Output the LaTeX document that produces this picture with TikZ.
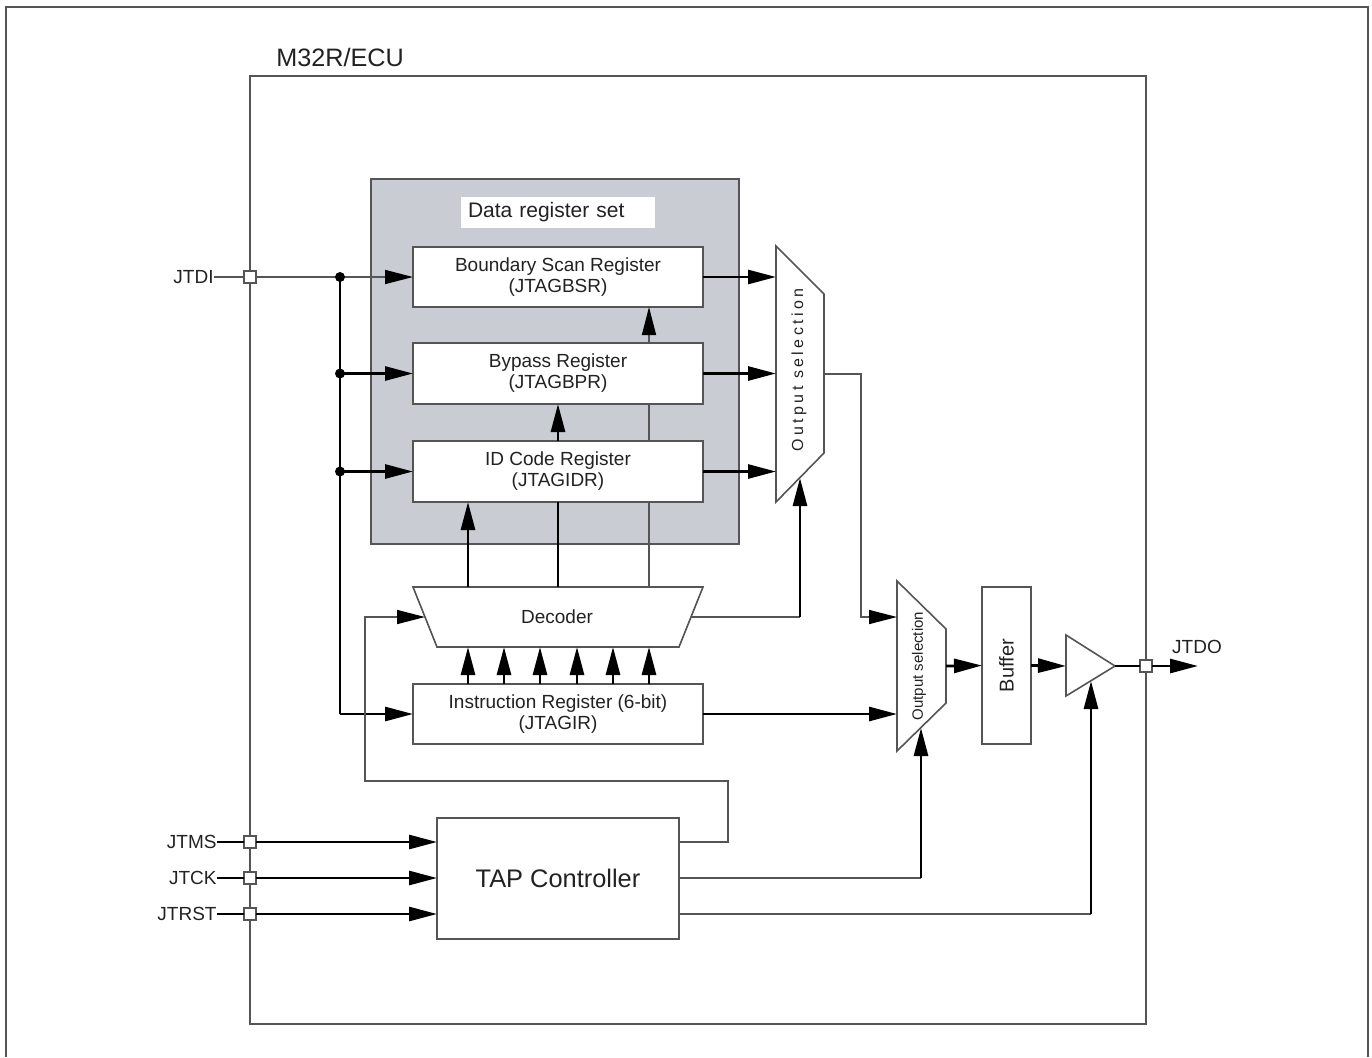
\documentclass[tikz,border=0pt]{standalone}
\usepackage{fontspec}
\setmainfont{Liberation Sans}
\usetikzlibrary{arrows.meta,calc}
\definecolor{linegray}{HTML}{555555}
\definecolor{boxgray}{HTML}{C9CCD3}
\definecolor{txt}{HTML}{222222}
\begin{document}
\begin{tikzpicture}[x=0.5pt,y=-0.5pt,
  thinln/.style={draw=linegray,line width=0.8pt},
  thickln/.style={draw=black,line width=1.4pt},
  arr/.style={-{Triangle[length=14pt,width=7pt,color=black]}},
  reg/.style={draw=linegray,line width=0.9pt,fill=white,minimum width=145pt,minimum height=30pt,inner sep=0pt,outer sep=0pt,align=center,font=\fontsize{9.5}{10.5}\selectfont,text=txt},
  pad/.style={draw=linegray,line width=0.8pt,fill=white,minimum size=6pt,inner sep=0pt,outer sep=0pt},
  jdot/.style={circle,fill=black,minimum size=5pt,inner sep=0pt},
  lbl/.style={font=\fontsize{9.5}{11}\selectfont,text=txt,inner sep=0pt},
  shapeln/.style={draw=linegray,line width=0.8pt,fill=white}]
\useasboundingbox (0,0) rectangle (1372,1057);
% outer frame
\draw[thinln] (6,1057) -- (6,7) -- (1368,7) -- (1368,1057);
% ECU box
\node[draw=linegray,line width=0.8pt,minimum width=448pt,minimum height=474pt,inner sep=0pt,outer sep=0pt] (ecu) at (698,550) {};
\node[font=\fontsize{12.6}{14}\selectfont,text=txt,inner sep=0pt,anchor=west] (ecul) at (276,57) {M32R/ECU};
% data register set
\node[draw=linegray,fill=boxgray,line width=0.8pt,minimum width=184pt,minimum height=182.5pt,inner sep=0pt,outer sep=0pt] (drs) at (555,361.5) {};
\node[fill=white,minimum width=97pt,minimum height=15.5pt,inner sep=0pt,font=\fontsize{10.5}{12}\selectfont,text=txt,text width=90pt,align=left] (drsl) at (558,212.5) {Data register set};
\node[reg] (bsr) at (558,277) {Boundary Scan Register\\(JTAGBSR)};
\node[reg,minimum height=30.5pt] (bpr) at (558,373.5) {Bypass Register\\(JTAGBPR)};
\node[reg,minimum height=30.5pt] (idr) at (558,471.5) {ID Code Register\\(JTAGIDR)};
\node[reg] (ir) at (558,714) {Instruction Register (6-bit)\\(JTAGIR)};
% decoder
\draw[shapeln] (413,587) -- (703,587) -- (679,647) -- (437,647) -- cycle;
\node[lbl] (dec) at (557,617) {Decoder};
\coordinate (decL) at (425,617);
\coordinate (decR) at (691,617);
% mux 1
\draw[shapeln] (776,246) -- (824,294) -- (824,453) -- (776,502) -- cycle;
\node[rotate=90,font=\fontsize{8}{9}\selectfont\addfontfeature{LetterSpace=21},text=txt,inner sep=0pt] (mux1) at (799,370) {Output selection};
\coordinate (m1L) at (776,0);
\coordinate (m1out) at (824,374);
\coordinate (m1turn) at (861,374);
\coordinate (m1ctl) at (800,478);
\coordinate (c1) at (800,617);
% mux 2
\draw[shapeln] (897,581) -- (946,629) -- (946,703) -- (897,751) -- cycle;
\node[rotate=90,font=\fontsize{7.5}{9}\selectfont,text=txt,inner sep=0pt] (mux2) at (919,666) {Output selection};
\coordinate (m2L) at (897,0);
\coordinate (m2in1) at (897,617);
\coordinate (m2out) at (946,666);
\coordinate (m2ctl) at (921,728);
\coordinate (c2) at (921,878);
% buffer
\node[draw=linegray,line width=0.8pt,rotate=90,minimum width=78.5pt,minimum height=24.5pt,inner sep=0pt,outer sep=0pt,font=\fontsize{10}{12}\selectfont,text=txt] (buf) at (1006.5,665.5) {Buffer};
% output driver triangle
\draw[shapeln] (1066,635) -- (1115,666) -- (1066,696) -- cycle;
\coordinate (triL) at (1066,666);
\coordinate (triT) at (1115,666);
\coordinate (triB) at (1091,681);
\coordinate (c3) at (1091,914);
% TAP controller
\node[draw=linegray,line width=0.9pt,minimum width=121pt,minimum height=60.5pt,inner sep=0pt,outer sep=0pt,font=\fontsize{12.7}{14}\selectfont,text=txt] (tap) at (558,878.5) {TAP Controller};
\coordinate (lpA) at (728,781);
\coordinate (lpB) at (365,617);
% pads and labels
\node[pad] (ptdi) at (250,277) {};
\node[pad] (ptms) at (250,842) {};
\node[pad] (ptck) at (250,878) {};
\node[pad] (ptrst) at (250,914) {};
\node[pad] (ptdo) at (1146,666) {};
\node[lbl,anchor=east] (ltdi) at (214,277) {JTDI};
\node[lbl,anchor=east] (ltms) at (217,842) {JTMS};
\node[lbl,anchor=east] (ltck) at (217,878) {JTCK};
\node[lbl,anchor=east] (ltrst) at (217,914) {JTRST};
\node[lbl] (ltdo) at (1197,647) {JTDO};
\coordinate (tdoend) at (1198,666);
% JTDI distribution
\coordinate (irin) at (340,714);
\draw[thinln] (ltdi.east) -- (ptdi.west);
\draw[thinln,arr] (ptdi.east) -- (bsr.west);
\node[jdot] (d1) at (340,277) {};
\node[jdot] (d2) at (340,373.5) {};
\node[jdot] (d3) at (340,471.5) {};
\draw[thickln] (d1.center) -- (irin);
\draw[thickln,arr] (irin) -- (ir.west);
\draw[thickln,arr] (d2.center) -- (bpr.west);
\draw[thickln,arr] (d3.center) -- (idr.west);
% register outputs to mux 1
\draw[thickln,arr] (bsr.east) -- (bsr.east -| m1L);
\draw[thickln,arr] (bpr.east) -- (bpr.east -| m1L);
\draw[thickln,arr] (idr.east) -- (idr.east -| m1L);
% mux 1 output to mux 2
\draw[thinln,arr] (m1out) -- (m1turn) |- (m2in1);
% decoder to mux 1 control
\draw[thinln] (decR) -- (c1);
\draw[thickln,arr] (c1) -- (m1ctl);
% decoder outputs to registers
\coordinate (dt1) at (468,587);
\coordinate (dt2) at (558,587);
\coordinate (dt3) at (649,587);
\draw[thickln,arr] (dt1) -- (dt1 |- idr.south);
\draw[thickln] (dt2) -- (dt2 |- idr.south);
\draw[thickln,arr] (dt2 |- idr.north) -- (dt2 |- bpr.south);
\draw[thinln] (dt3) -- (dt3 |- idr.south);
\draw[thinln] (dt3 |- idr.north) -- (dt3 |- bpr.south);
\draw[thinln,arr] (dt3 |- bpr.north) -- (dt3 |- bsr.south);
% instruction register to decoder
\foreach \xx in {468,504,540,577,613,649} {
  \coordinate (db\xx) at (\xx,647);
  \draw[thickln,arr] (db\xx |- ir.north) -- (db\xx);
}
% instruction register to mux 2
\draw[thickln,arr] (ir.east) -- (ir.east -| m2L);
% output chain
\draw[thickln,arr] (m2out) -- (buf.north);
\draw[thickln,arr] (buf.south) -- (triL);
\draw[thickln] (triT) -- (ptdo.west);
\draw[thickln,arr] (ptdo.east) -- (tdoend);
% TAP inputs
\draw[thickln] (ltms.east) -- (ptms.west);
\draw[thickln] (ltck.east) -- (ptck.west);
\draw[thickln] (ltrst.east) -- (ptrst.west);
\draw[thickln,arr] (ptms.east) -- (ptms.east -| tap.west);
\draw[thickln,arr] (ptck.east) -- (ptck.east -| tap.west);
\draw[thickln,arr] (ptrst.east) -- (ptrst.east -| tap.west);
% TAP outputs
\draw[thinln,arr] (tap.east |- ptms) -| (lpA) -| (lpB) -- (decL);
\draw[thinln] (tap.east |- ptck) -- (c2);
\draw[thickln,arr] (c2) -- (m2ctl);
\draw[thinln] (tap.east |- ptrst) -- (c3);
\draw[thickln,arr] (c3) -- (triB);
\end{tikzpicture}
\end{document}
